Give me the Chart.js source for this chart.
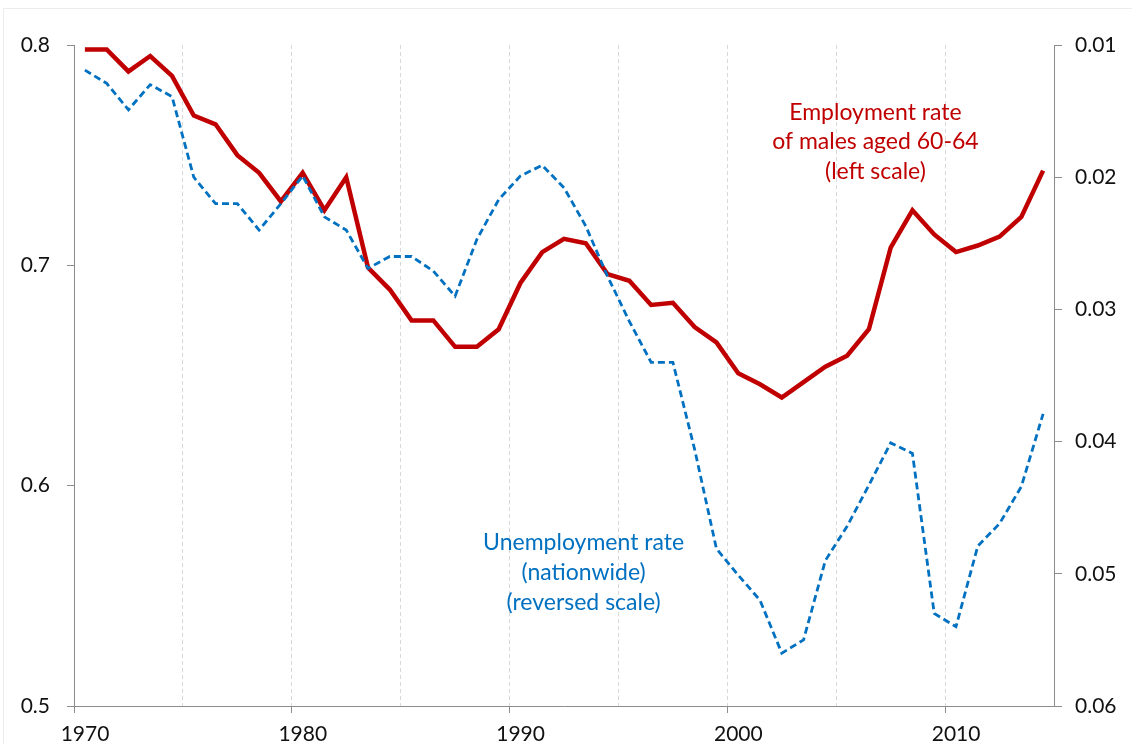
<!DOCTYPE html>
<html>
<head>
<meta charset="utf-8">
<script src="https://cdn.jsdelivr.net/npm/chart.js@4.4.1/dist/chart.umd.min.js"></script>
<style>
  html, body { margin: 0; padding: 0; background: #fff; overflow: hidden; }
  #wrap { position: relative; width: 1132px; height: 744px; }
  #frame { position: absolute; left: 3px; top: 8px; width: 1200px; height: 800px; border: 1px solid #ececec; }
  #chart { position: absolute; left: 0; top: 0; }
</style>
</head>
<body>
<div id="wrap">
  <div id="frame"></div>
  <canvas id="chart" width="1132" height="744"></canvas>
</div>
<script>
// years 1970..2014
const years = [
  1970, 1971, 1972, 1973, 1974, 1975, 1976, 1977, 1978, 1979,
  1980, 1981, 1982, 1983, 1984, 1985, 1986, 1987, 1988, 1989,
  1990, 1991, 1992, 1993, 1994, 1995, 1996, 1997, 1998, 1999,
  2000, 2001, 2002, 2003, 2004, 2005, 2006, 2007, 2008, 2009,
  2010, 2011, 2012, 2013, 2014
];

// employment rate of males aged 60-64 (left scale)
const employmentRate = [
  0.798, 0.798, 0.788, 0.795, 0.786, 0.768, 0.764, 0.750, 0.742, 0.729,
  0.742, 0.725, 0.740, 0.699, 0.689, 0.675, 0.675, 0.663, 0.663, 0.671,
  0.692, 0.706, 0.712, 0.710, 0.696, 0.693, 0.682, 0.683, 0.672, 0.665,
  0.651, 0.646, 0.640, 0.647, 0.654, 0.659, 0.671, 0.708, 0.725, 0.714,
  0.706, 0.709, 0.713, 0.722, 0.743
];

// unemployment rate, nationwide (right scale, reversed)
const unemploymentRate = [
  0.0119, 0.0129, 0.0149, 0.0130, 0.0139, 0.0200, 0.0220, 0.0220, 0.0240, 0.0220,
  0.0199, 0.0230, 0.0240, 0.0269, 0.0260, 0.0260, 0.0271, 0.0290, 0.0247, 0.0217,
  0.0199, 0.0191, 0.0208, 0.0237, 0.0275, 0.0309, 0.0340, 0.0340, 0.0406, 0.0481,
  0.0501, 0.0520, 0.0560, 0.0550, 0.0490, 0.0464, 0.0433, 0.0401, 0.0409, 0.0530,
  0.0540, 0.0479, 0.0462, 0.0434, 0.0379
];

const leftTicks = [0.5, 0.6, 0.7, 0.8];
const rightTicks = [0.01, 0.02, 0.03, 0.04, 0.05, 0.06];

const RED = '#C00000';
const BLUE = '#0070C0';
const AXIS = '#8c8c8c';
const FONT = 'Lato, "Noto Sans", sans-serif';

// points sit in the middle of each year slot
const empPoints = years.map((y, i) => ({ x: y + 0.5, y: employmentRate[i] }));
const unempPoints = years.map((y, i) => ({ x: y + 0.5, y: unemploymentRate[i] }));

const notes = {
  id: 'notes',
  afterDatasetsDraw(chart) {
    const ctx = chart.ctx;
    const xs = chart.scales.x;
    const yl = chart.scales.yLeft;
    ctx.save();
    ctx.font = '23px ' + FONT;
    ctx.textAlign = 'center';
    ctx.textBaseline = 'middle';

    ctx.fillStyle = RED;
    let cx = xs.getPixelForValue(2006.8);
    let cy = yl.getPixelForValue(0.7695);
    ['Employment rate', 'of males aged 60-64', '(left scale)'].forEach((t, i) => {
      ctx.fillText(t, cx, cy + i * 29.6);
    });

    ctx.fillStyle = BLUE;
    cx = xs.getPixelForValue(1993.4);
    cy = yl.getPixelForValue(0.574);
    ['Unemployment rate', '(nationwide)', '(reversed scale)'].forEach((t, i) => {
      ctx.fillText(t, cx, cy + i * 30);
    });
    ctx.restore();
  }
};

new Chart(document.getElementById('chart'), {
  type: 'line',
  data: {
    datasets: [
      {
        label: 'Unemployment rate',
        data: unempPoints,
        yAxisID: 'yRight',
        borderColor: BLUE,
        borderWidth: 2.8,
        borderDash: [7, 4],
        pointRadius: 0,
        tension: 0,
        order: 0
      },
      {
        label: 'Employment rate',
        data: empPoints,
        yAxisID: 'yLeft',
        borderColor: RED,
        borderWidth: 4.5,
        pointRadius: 0,
        tension: 0,
        borderJoinStyle: 'miter',
        order: 1
      }
    ]
  },
  options: {
    responsive: false,
    animation: false,
    layout: { padding: { top: 45, bottom: 0, left: 0, right: 0 } },
    plugins: {
      legend: { display: false },
      tooltip: { enabled: false }
    },
    scales: {
      x: {
        type: 'linear',
        min: 1970,
        max: 2015,
        afterFit(scale) { scale.height = 38; },
        afterBuildTicks(scale) {
          const t = [];
          for (let v = 1970; v <= 2015; v += 5) t.push({ value: v });
          scale.ticks = t;
        },
        ticks: {
          autoSkip: false,
          maxRotation: 0,
          labelOffset: 11,
          padding: 9,
          color: '#111',
          font: { family: FONT, size: 21 },
          callback: v => (v % 10 === 0 && v < 2015) ? String(v) : ''
        },
        grid: {
          color: c => (c.tick && (c.tick.value === 1970 || c.tick.value === 2015)) ? 'rgba(0,0,0,0)' : '#d9d9d9',
          lineWidth: 1,
          tickLength: 7,
          tickColor: c => (c.tick && c.tick.value % 10 === 0) ? AXIS : 'rgba(0,0,0,0)'
        },
        border: { color: AXIS, width: 1, dash: [4, 3] }
      },
      yLeft: {
        type: 'linear',
        position: 'left',
        min: 0.5,
        max: 0.8,
        afterFit(scale) { scale.width = 74; },
        afterBuildTicks(scale) { scale.ticks = leftTicks.map(v => ({ value: v })); },
        ticks: {
          padding: 17,
          color: '#111',
          font: { family: FONT, size: 21 },
          callback: v => v.toFixed(1)
        },
        grid: { drawOnChartArea: false, tickLength: 7, tickColor: AXIS },
        border: { color: AXIS, width: 1 }
      },
      yRight: {
        type: 'linear',
        position: 'right',
        reverse: true,
        min: 0.01,
        max: 0.06,
        afterFit(scale) { scale.width = 78; },
        afterBuildTicks(scale) { scale.ticks = rightTicks.map(v => ({ value: v })); },
        ticks: {
          padding: 13,
          color: '#111',
          font: { family: FONT, size: 21 },
          callback: v => v.toFixed(2)
        },
        grid: { drawOnChartArea: false, tickLength: 8, tickColor: AXIS },
        border: { color: AXIS, width: 1 }
      }
    }
  },
  plugins: [notes]
});
</script>
</body>
</html>
